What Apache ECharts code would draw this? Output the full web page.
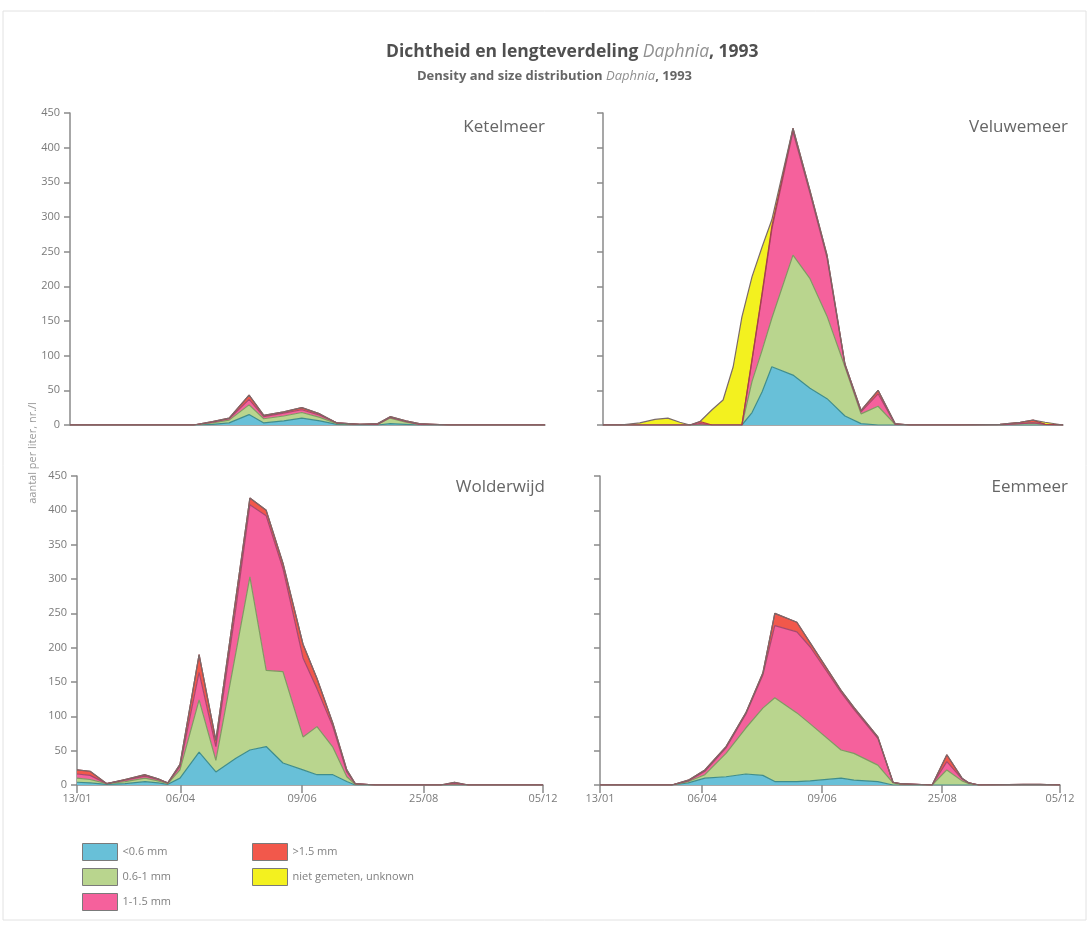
<!DOCTYPE html>
<html>
<head>
<meta charset="utf-8">
<title>Dichtheid en lengteverdeling Daphnia, 1993</title>
<script src="https://cdn.jsdelivr.net/npm/echarts@6.0.0/dist/echarts.min.js"></script>
<style>
  html, body { margin: 0; padding: 0; background: #fff; }
  #chart { width: 1090px; height: 926px; }
</style>
</head>
<body>
<div id="chart"></div>
<script>
// x positions run 0..100 from 13/01 to 05/12 (the tick spacing in the original is not proportional to days)
var xTickVals = [0, 22.2, 48.3, 74.4, 100];
var xTickLabels = ['13/01', '06/04', '09/06', '25/08', '05/12'];

var layerNames = ['<0.6 mm', '0.6-1 mm', '1-1.5 mm', '>1.5 mm', 'niet gemeten, unknown'];

// Ketelmeer
var ketelX      = [0, 26, 30, 33.5, 37.7, 40.8, 45, 48.8, 52.6, 56.2, 61, 64.8, 67.4, 70.7, 73.5, 80, 100];
var ketelBlue   = [0, 0, 1, 3, 15, 3, 6, 10, 6, 1, 0, 0, 2, 1, 0, 0, 0];
var ketelGreen  = [0, 0, 2, 4, 14, 6, 7, 8, 5, 1, 1, 1, 8, 3, 1, 0, 0];
var ketelPink   = [0, 0, 1, 2, 8, 3, 4, 4, 3, 1, 0, 0, 1, 1, 0, 0, 0];
var ketelRed    = [0, 0, 1, 1, 6, 2, 2, 3, 2, 0, 0, 1, 1, 1, 1, 0, 0];
var ketelYellow = [0, 0, 0, 0, 0, 0, 0, 0, 0, 0, 0, 0, 0, 0, 0, 0, 0];

// Veluwemeer
var veluX      = [0, 3.7, 8, 11.3, 14.1, 16.7, 18.9, 21.1, 23.7, 26.1, 28.3, 30.2, 32.4, 34.6, 36.7, 41.3, 45, 48.7, 52.6, 56.1, 59.8, 63.5, 66.7, 77.6, 86.3, 90.7, 93.5, 96.1, 100];
var veluBlue   = [0, 0, 0, 0, 0, 0, 0, 0, 0, 0, 0, 0, 18, 48, 84, 72, 53, 38, 13, 2, 0, 0, 0, 0, 0, 0, 0, 0, 0];
var veluGreen  = [0, 0, 0, 0, 0, 0, 0, 0, 0, 0, 0, 0, 45, 60, 70, 173, 158, 119, 71, 14, 27, 1, 0, 0, 0, 2, 3, 1, 0];
var veluPink   = [0, 0, 0, 0, 0, 0, 0, 2, 0, 0, 0, 0, 30, 80, 128, 178, 123, 84, 2, 3, 18, 0, 0, 0, 0, 0, 0, 0, 0];
var veluRed    = [0, 0, 0, 0, 0, 0, 0, 3, 0, 0, 0, 0, 2, 3, 4, 5, 4, 4, 2, 2, 5, 1, 0, 0, 1, 2, 4, 0, 0];
var veluYellow = [0, 0, 3, 8, 10, 4, 0, 0, 22, 36, 84, 156, 119, 66, 10, 0, 0, 0, 0, 0, 0, 0, 0, 0, 0, 0, 0, 3, 0];

// Wolderwijd
var woldX      = [0, 2.8, 6.4, 10.3, 14.6, 17.4, 19.5, 22.1, 26.2, 29.8, 34.1, 37.1, 40.6, 44.2, 48.5, 51.5, 54.9, 57.9, 59.7, 64, 78, 81, 84, 100];
var woldBlue   = [4, 3, 1, 2, 5, 3, 1, 10, 48, 19, 39, 51, 56, 32, 22, 15, 15, 5, 0, 0, 0, 0, 0, 0];
var woldGreen  = [6, 5, 1, 3, 5, 3, 1, 12, 76, 17, 154, 252, 111, 133, 48, 70, 40, 7, 1, 0, 0, 1, 0, 0];
var woldPink   = [6, 6, 0, 2, 3, 2, 1, 5, 40, 20, 65, 105, 225, 150, 115, 55, 30, 7, 1, 0, 0, 1, 0, 0];
var woldRed    = [6, 6, 0, 1, 2, 1, 0, 3, 26, 9, 15, 10, 8, 8, 20, 15, 5, 3, 0, 0, 0, 2, 0, 0];
var woldYellow = [0, 0, 0, 0, 0, 0, 0, 0, 0, 0, 0, 0, 0, 0, 0, 0, 0, 0, 0, 0, 0, 0, 0, 0];

// Eemmeer
var eemX      = [0, 15.6, 19.2, 22.8, 27.4, 31.7, 35.4, 38, 42.8, 45.7, 52.4, 55.2, 60.4, 63.7, 65.2, 72.2, 75.4, 78.7, 80.2, 82.4, 92, 95.7, 100];
var eemBlue   = [0, 0, 3, 10, 12, 16, 14, 5, 5, 6, 10, 7, 5, 0, 0, 0, 0, 0, 0, 0, 0, 0, 0];
var eemGreen  = [0, 0, 2, 5, 34, 67, 98, 122, 100, 83, 41, 39, 24, 3, 1, 0, 22, 6, 2, 0, 0, 0, 0];
var eemPink   = [0, 0, 1, 5, 8, 20, 48, 105, 118, 112, 84, 64, 39, 1, 1, 0, 12, 3, 1, 0, 0, 0, 0];
var eemRed    = [0, 0, 1, 2, 2, 2, 3, 18, 14, 6, 3, 3, 2, 0, 0, 0, 10, 1, 0, 0, 1, 1, 0];
var eemYellow = [0, 0, 0, 0, 0, 0, 0, 0, 0, 0, 0, 0, 0, 0, 0, 0, 0, 0, 0, 0, 0, 0, 0];

var fillColors = ['#68c0d8', '#b9d58e', '#f5619c', '#f2584b', '#f3f11f'];
var lineColors = ['#3f8d8c', '#7f9a62', '#a8486e', '#a84048', '#7a6a6a'];

var panels = [
    { name: 'Ketelmeer',  x: ketelX, layers: [ketelBlue, ketelGreen, ketelPink, ketelRed, ketelYellow] },
    { name: 'Veluwemeer', x: veluX,  layers: [veluBlue, veluGreen, veluPink, veluRed, veluYellow] },
    { name: 'Wolderwijd', x: woldX,  layers: [woldBlue, woldGreen, woldPink, woldRed, woldYellow] },
    { name: 'Eemmeer',    x: eemX,   layers: [eemBlue, eemGreen, eemPink, eemRed, eemYellow] }
];

var FONT = '"Open Sans", "Noto Sans", sans-serif';
var axisGray = '#8a8a8a';

var grids = [
    { left: 70,  top: 113, width: 475, height: 312 },
    { left: 603, top: 113, width: 460, height: 312 },
    { left: 77,  top: 476, width: 466, height: 309 },
    { left: 600, top: 476, width: 460, height: 309 }
];

var xAxes = [], yAxes = [], series = [];
panels.forEach(function (p, k) {
    var bottomRow = k >= 2;
    xAxes.push({
        gridIndex: k, type: 'value', min: 0, max: 100,
        axisLine: { show: true, lineStyle: { color: axisGray, width: 1.5 } },
        axisTick: { show: bottomRow, customValues: xTickVals, length: 8, lineStyle: { color: axisGray, width: 1.5 } },
        axisLabel: {
            show: bottomRow, customValues: xTickVals, margin: 8,
            fontSize: 11, color: '#7a7a7a', fontFamily: FONT,
            formatter: function (v) {
                var i = xTickVals.indexOf(v);
                return i >= 0 ? xTickLabels[i] : '';
            }
        },
        splitLine: { show: false }
    });
    yAxes.push({
        gridIndex: k, type: 'value', min: 0, max: 450, interval: 50,
        axisLine: { show: true, lineStyle: { color: axisGray, width: 1.5 } },
        axisTick: { show: true, length: 6, lineStyle: { color: axisGray, width: 1.5 } },
        axisLabel: { show: k % 2 === 0, margin: 10, fontSize: 11, color: '#7a7a7a', fontFamily: FONT },
        splitLine: { show: false }
    });
    p.layers.forEach(function (vals, j) {
        series.push({
            name: layerNames[j],
            type: 'line',
            xAxisIndex: k, yAxisIndex: k,
            stack: 'panel' + k,
            symbol: 'none',
            // value first so that the stack runs on y, position second
            encode: { y: 0, x: 1 },
            itemStyle: { color: fillColors[j] },
            lineStyle: { color: lineColors[j], width: 1.2 },
            areaStyle: { color: fillColors[j], opacity: 1 },
            data: vals.map(function (v, i) { return [v, p.x[i]]; })
        });
    });
});

var legendBase = {
    orient: 'vertical', icon: 'rect', itemWidth: 35, itemHeight: 17, itemGap: 7,
    selectedMode: false,
    itemStyle: { borderColor: '#7a7a7a', borderWidth: 1 },
    textStyle: { fontSize: 11, color: '#808080', fontFamily: FONT }
};

var titleRich = function (size) {
    return { i: { fontStyle: 'italic', fontWeight: 'normal', color: '#909090', fontSize: size, fontFamily: FONT } };
};

var chart = echarts.init(document.getElementById('chart'), null, { renderer: 'canvas' });
chart.setOption({
    backgroundColor: '#ffffff',
    animation: false,
    title: [
        {
            text: 'Dichtheid en lengteverdeling {i|Daphnia}, 1993',
            left: 381, top: 38,
            textStyle: { fontSize: 17.5, fontWeight: 'bold', color: '#505050', fontFamily: FONT, rich: titleRich(17.5) }
        },
        {
            text: 'Density and size distribution {i|Daphnia}, 1993',
            left: 412, top: 65,
            textStyle: { fontSize: 13, fontWeight: 'bold', color: '#666', fontFamily: FONT, rich: titleRich(13) }
        }
    ],
    legend: [
        Object.assign({ left: 77, top: 838, data: layerNames.slice(0, 3) }, legendBase),
        Object.assign({ left: 247, top: 838, data: layerNames.slice(3) }, legendBase)
    ],
    grid: grids,
    xAxis: xAxes,
    yAxis: yAxes,
    series: series,
    graphic: [
        { type: 'rect', shape: { x: 3, y: 11, width: 1083, height: 909 }, style: { fill: 'none', stroke: '#e2e2e2', lineWidth: 1 }, silent: true },
        { type: 'text', x: 545, y: 127, style: { text: 'Ketelmeer', textAlign: 'right', textVerticalAlign: 'middle', fontSize: 17, fontFamily: FONT, fill: '#666' } },
        { type: 'text', x: 1068, y: 127, style: { text: 'Veluwemeer', textAlign: 'right', textVerticalAlign: 'middle', fontSize: 17, fontFamily: FONT, fill: '#666' } },
        { type: 'text', x: 545, y: 487, style: { text: 'Wolderwijd', textAlign: 'right', textVerticalAlign: 'middle', fontSize: 17, fontFamily: FONT, fill: '#666' } },
        { type: 'text', x: 1068, y: 487, style: { text: 'Eemmeer', textAlign: 'right', textVerticalAlign: 'middle', fontSize: 17, fontFamily: FONT, fill: '#666' } },
        { type: 'text', x: 33, y: 453, rotation: Math.PI / 2, style: { text: 'aantal per liter, nr./l', textAlign: 'center', textVerticalAlign: 'middle', fontSize: 11, fontFamily: FONT, fill: '#9a9a9a' } }
    ]
});
</script>
</body>
</html>
